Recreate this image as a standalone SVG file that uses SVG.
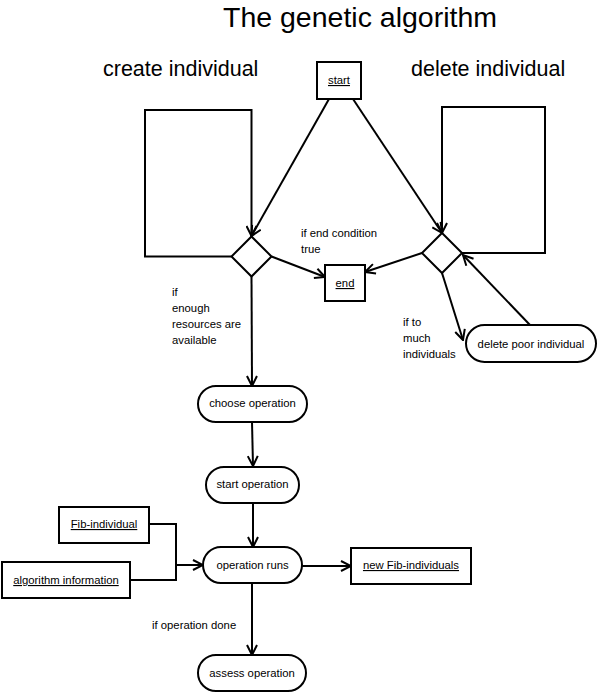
<svg xmlns="http://www.w3.org/2000/svg" width="597" height="692" viewBox="0 0 597 692">
<style>
text{font-family:"Liberation Sans",Arial,sans-serif;fill:#000}
.s{font-size:11.3px}
.c{text-anchor:middle}
.u{text-decoration:underline}
.h{font-size:21.5px}
.t{font-size:28.5px}
.n{fill:#fff;stroke:#000;stroke-width:2}
.e{fill:none;stroke:#000;stroke-width:2;marker-end:url(#a)}
.l{fill:none;stroke:#000;stroke-width:2}
</style>
<defs>
<marker id="a" viewBox="0 0 12 12" refX="11" refY="6" markerWidth="12" markerHeight="12" markerUnits="userSpaceOnUse" orient="auto">
<path d="M1,1 L11,6 L1,11" fill="none" stroke="#000" stroke-width="2"/>
</marker>
</defs>
<rect width="597" height="692" fill="#fff"/>
<text class="t c" x="360" y="27">The genetic algorithm</text>
<text class="h" x="103" y="76">create individual</text>
<text class="h" x="411" y="76">delete individual</text>
<g id="connectors">
<path class="e" d="M329,99 L251.5,236"/>
<path class="e" d="M353,99 L442,233"/>
<path class="e" d="M231.5,256.5 L145,256.5 L145,110 L251.5,110 L251.5,236"/>
<path class="e" d="M462,253 L545,253 L545,107 L442,107 L442,233"/>
<path class="e" d="M271.5,256.5 L325,277"/>
<path class="e" d="M422,253 L365,272"/>
<path class="e" d="M442,273 L463,340"/>
<path class="e" d="M530,325 L463,255"/>
<path class="e" d="M251.5,276.5 L252,386"/>
<path class="e" d="M252,422 L253,466"/>
<path class="e" d="M253,503 L253,547"/>
<path class="l" d="M149,524 L176,524 L176,580 L130,580"/>
<path class="e" d="M176,565 L203,565"/>
<path class="e" d="M302,566 L351,566"/>
<path class="e" d="M252,583 L252,655"/>
<text class="s" x="301" y="237">if end condition</text>
<text class="s" x="301" y="253">true</text>
<text class="s" x="172" y="296">if</text>
<text class="s" x="172" y="312">enough</text>
<text class="s" x="172" y="328">resources are</text>
<text class="s" x="172" y="344">available</text>
<text class="s" x="403" y="326">if to</text>
<text class="s" x="403" y="342">much</text>
<text class="s" x="403" y="358">individuals</text>
<text class="s" x="152" y="629">if operation done</text>
</g>
<g id="start"><rect class="n" x="317" y="62" width="44" height="37"/><text class="s c u" x="339" y="84">start</text></g>
<g id="end"><rect class="n" x="325" y="265" width="40" height="36"/><text class="s c u" x="345" y="287">end</text></g>
<g id="create-decision"><path class="n" d="M251.5,236.5 L271.5,256.5 L251.5,276.5 L231.5,256.5 Z"/></g>
<g id="delete-decision"><path class="n" d="M442,233 L462,253 L442,273 L422,253 Z"/></g>
<g id="delete-poor"><rect class="n" x="466" y="325" width="130" height="37" rx="18.5"/><text class="s c" x="531" y="348">delete poor individual</text></g>
<g id="choose-operation"><rect class="n" x="198" y="386" width="109" height="36" rx="18"/><text class="s c" x="252.5" y="407">choose operation</text></g>
<g id="start-operation"><rect class="n" x="206" y="467" width="93" height="36" rx="18"/><text class="s c" x="252.5" y="488">start operation</text></g>
<g id="operation-runs"><rect class="n" x="203" y="547" width="99" height="36" rx="18"/><text class="s c" x="252.5" y="569">operation runs</text></g>
<g id="assess-operation"><rect class="n" x="198" y="655" width="108" height="36" rx="18"/><text class="s c" x="252" y="677">assess operation</text></g>
<g id="fib-individual"><rect class="n" x="59" y="507" width="90" height="36"/><text class="s c u" x="104" y="528">Fib-individual</text></g>
<g id="algorithm-information"><rect class="n" x="2" y="562" width="128" height="36"/><text class="s c u" x="66" y="584">algorithm information</text></g>
<g id="new-fib-individuals"><rect class="n" x="351" y="548" width="120" height="36"/><text class="s c u" x="411" y="569">new Fib-individuals</text></g>
</svg>
